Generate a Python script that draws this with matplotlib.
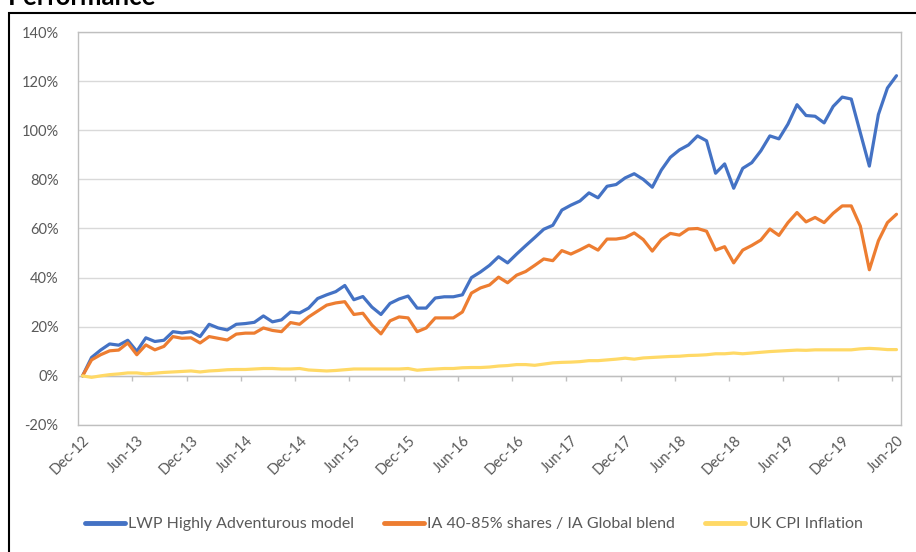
import numpy as np
import matplotlib
matplotlib.use("Agg")
from matplotlib import pyplot as plt
from matplotlib.patches import Rectangle

# monthly cumulative returns (%), Dec-12 .. Jun-20
lwp = [0, 7.5, 10.5, 13, 12.5, 14.5, 10, 15.5, 14, 14.5,
       18, 17.5, 18, 16, 21, 19.5, 18.7, 21, 21.3, 21.8,
       24.4, 22, 22.8, 26, 25.6, 27.6, 31.5, 33, 34.3, 36.8,
       31, 32.3, 28, 25, 29.5, 31.3, 32.5, 27.6, 27.6, 31.7,
       32.2, 32.2, 33, 40, 42.3, 45, 48.5, 46, 49.6, 53,
       56.3, 59.7, 61.3, 67.5, 69.5, 71.2, 74.5, 72.5, 77.2, 77.9,
       80.6, 82.3, 80, 76.8, 83.8, 89, 92, 94, 97.7, 95.7,
       82.5, 86.3, 76.4, 84.5, 86.8, 91.6, 97.7, 96.5, 102.5, 110.4,
       106, 105.7, 103, 109.7, 113.5, 112.7, 99, 85.4, 106.4, 117.2,
       122.2]
ia_blend = [0, 6.5, 8.6, 10.2, 10.5, 13.4, 8.6, 12.6, 10.6, 12,
            16, 15.3, 15.5, 13.4, 16, 15.3, 14.6, 17, 17.4, 17.4,
            19.5, 18.5, 18, 21.7, 21, 24, 26.4, 28.8, 29.7, 30.2,
            25, 25.5, 20.7, 17.1, 22.4, 24, 23.6, 18, 19.5, 23.6,
            23.6, 23.6, 26, 33.7, 35.8, 37, 40.2, 37.9, 41, 42.5,
            45, 47.6, 46.9, 51, 49.6, 51.3, 53.2, 51.2, 55.7, 55.7,
            56.3, 58.2, 55.5, 50.8, 55.5, 58, 57.3, 59.8, 60, 58.9,
            51.2, 52.6, 46, 51.2, 53.1, 55.3, 59.8, 57.2, 62.4, 66.5,
            62.7, 64.5, 62.4, 66.2, 69.2, 69.2, 61, 43.2, 55, 62.4,
            65.8]
cpi = [0, -0.6, 0, 0.5, 0.8, 1.2, 1.2, 0.8, 1.1, 1.4,
       1.6, 1.8, 2.0, 1.6, 2.0, 2.2, 2.5, 2.6, 2.6, 2.8,
       3.0, 3.0, 2.8, 2.8, 3.0, 2.4, 2.2, 2.0, 2.2, 2.5,
       2.8, 2.8, 2.8, 2.8, 2.8, 2.8, 3.0, 2.3, 2.6, 2.8,
       3.0, 3.0, 3.3, 3.4, 3.4, 3.6, 4.0, 4.2, 4.6, 4.6,
       4.3, 4.8, 5.3, 5.5, 5.6, 5.8, 6.2, 6.2, 6.5, 6.8,
       7.2, 6.8, 7.3, 7.5, 7.7, 7.9, 8.0, 8.3, 8.4, 8.6,
       9.0, 9.0, 9.3, 9.0, 9.3, 9.6, 9.9, 10.1, 10.3, 10.5,
       10.4, 10.6, 10.6, 10.6, 10.6, 10.6, 11.0, 11.2, 11.0, 10.7,
       10.7]
tick_labels = ['Dec-12', 'Jun-13', 'Dec-13', 'Jun-14', 'Dec-14', 'Jun-15',
               'Dec-15', 'Jun-16', 'Dec-16', 'Jun-17', 'Dec-17', 'Jun-18',
               'Dec-18', 'Jun-19', 'Dec-19', 'Jun-20']
series_names = ['LWP Highly Adventurous model',
                'IA 40-85% shares / IA Global blend',
                'UK CPI Inflation']

plt.rcParams['font.family'] = ['Lato', 'DejaVu Sans']

fig = plt.figure(figsize=(9.16, 5.52), dpi=100)
ax = fig.add_axes([78/916, 1-425/552, (901-78)/916, (425-32)/552])

x = np.arange(len(lwp))
ax.plot(x, lwp, color='#4472C4', lw=2.3, label=series_names[0], solid_capstyle='round')
ax.plot(x, ia_blend, color='#ED7D31', lw=2.3, label=series_names[1], solid_capstyle='round')
ax.plot(x, cpi, color='#FFD966', lw=2.3, label=series_names[2], solid_capstyle='round')

ax.set_xlim(-0.5, len(lwp) - 0.5)
ax.set_ylim(-20, 140)
ax.set_yticks(np.arange(-20, 141, 20))
ax.set_yticklabels(['%d%%' % v for v in np.arange(-20, 141, 20)])
ax.grid(axis='y', color='#D9D9D9', lw=1)
ax.set_axisbelow(True)
ax.axhline(0, color='#BFBFBF', lw=1, zorder=1)
# category tick marks sit on the 0% line
ax.vlines(np.arange(-0.5, len(lwp), 6), -2, 0, color='#BFBFBF', lw=1, zorder=1)

ax.set_xticks(np.arange(0, len(lwp), 6))
ax.set_xticklabels(tick_labels, rotation=45, ha='right', va='top', rotation_mode='anchor')
ax.tick_params(axis='both', length=0, labelsize=10.5, labelcolor='#595959')
ax.tick_params(axis='y', pad=14)
ax.tick_params(axis='x', pad=6)
for s in ax.spines.values():
    s.set_color('#BFBFBF')
    s.set_linewidth(1)

leg = fig.legend(loc='center', bbox_to_anchor=(0.517, 1-524/552), ncol=3, frameon=False,
                 fontsize=11.5, handlelength=2.5, handletextpad=0.2, columnspacing=1.9)
for line in leg.get_lines():
    line.set_linewidth(3.5)
for t in leg.get_texts():
    t.set_color('#595959')

# outer frame and the heading, cut off at the top as in the source
fig.patches.append(Rectangle((9/916, -0.1), 1.2, 1.1 - 12.5/552, transform=fig.transFigure,
                             fill=False, ec='black', lw=1.5, clip_on=False))
fig.text(8/916, 1-5/552, 'Performance', fontsize=18.5, fontweight='bold', va='baseline', ha='left')

fig.savefig('out.png', dpi=100)
